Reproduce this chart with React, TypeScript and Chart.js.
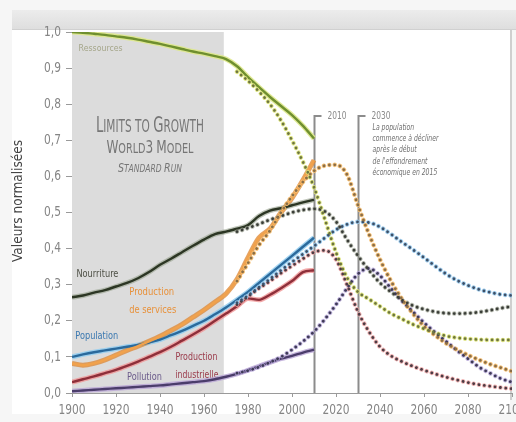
import { useEffect, useRef } from "react";
import { Chart, registerables } from "chart.js";
Chart.register(...registerables);

const FONT = '"DejaVu Sans", "Liberation Sans", sans-serif';

// Historical data years (solid lines)
const histYears = [1900, 1905, 1910, 1915, 1920, 1925, 1930, 1935, 1940, 1945, 1950, 1955, 1960, 1965, 1970, 1975, 1980, 1985, 1990, 1995, 2000, 2005, 2010];
// Model projection years (dotted lines)
const projYears = [1975, 1980, 1985, 1990, 1995, 2000, 2005, 2010, 2015, 2020, 2025, 2030, 2035, 2040, 2045, 2050, 2055, 2060, 2065, 2070, 2075, 2080, 2085, 2090, 2095, 2100];

const resourcesHist = [1.0, 0.998, 0.995, 0.992, 0.988, 0.984, 0.979, 0.973, 0.967, 0.96, 0.953, 0.946, 0.94, 0.933, 0.925, 0.905, 0.875, 0.847, 0.82, 0.795, 0.77, 0.74, 0.705];
const foodHist = [0.265, 0.27, 0.278, 0.285, 0.295, 0.305, 0.318, 0.335, 0.355, 0.372, 0.39, 0.408, 0.425, 0.44, 0.447, 0.455, 0.465, 0.49, 0.505, 0.512, 0.52, 0.528, 0.535];
const servicesHist = [0.082, 0.077, 0.082, 0.092, 0.105, 0.118, 0.13, 0.143, 0.157, 0.173, 0.19, 0.21, 0.23, 0.252, 0.275, 0.315, 0.375, 0.43, 0.455, 0.5, 0.54, 0.59, 0.645];
const populationHist = [0.1, 0.107, 0.113, 0.118, 0.123, 0.128, 0.133, 0.14, 0.148, 0.16, 0.172, 0.186, 0.2, 0.218, 0.237, 0.258, 0.28, 0.305, 0.33, 0.355, 0.38, 0.405, 0.43];
const industryHist = [0.03, 0.038, 0.046, 0.055, 0.064, 0.075, 0.087, 0.1, 0.113, 0.128, 0.145, 0.162, 0.18, 0.2, 0.22, 0.24, 0.262, 0.258, 0.272, 0.29, 0.31, 0.335, 0.34];
const pollutionHist = [0.005, 0.007, 0.009, 0.011, 0.013, 0.015, 0.017, 0.019, 0.021, 0.024, 0.027, 0.03, 0.033, 0.038, 0.045, 0.053, 0.063, 0.074, 0.085, 0.095, 0.103, 0.112, 0.12];

const resourcesProj = [0.89, 0.865, 0.835, 0.8, 0.755, 0.7, 0.64, 0.57, 0.48, 0.39, 0.32, 0.28, 0.26, 0.24, 0.22, 0.205, 0.19, 0.178, 0.167, 0.158, 0.153, 0.15, 0.148, 0.147, 0.147, 0.147];
const servicesProj = [0.31, 0.36, 0.41, 0.45, 0.5, 0.545, 0.585, 0.615, 0.63, 0.632, 0.605, 0.52, 0.44, 0.37, 0.31, 0.26, 0.22, 0.185, 0.16, 0.138, 0.12, 0.105, 0.092, 0.08, 0.07, 0.06];
const foodProj = [0.447, 0.457, 0.468, 0.48, 0.49, 0.5, 0.507, 0.51, 0.503, 0.475, 0.425, 0.38, 0.34, 0.305, 0.28, 0.258, 0.242, 0.232, 0.225, 0.221, 0.22, 0.221, 0.224, 0.229, 0.235, 0.24];
const populationProj = [0.25, 0.27, 0.293, 0.316, 0.34, 0.363, 0.385, 0.407, 0.43, 0.452, 0.467, 0.474, 0.472, 0.46, 0.44, 0.418, 0.397, 0.375, 0.352, 0.33, 0.312, 0.298, 0.287, 0.279, 0.273, 0.27];
const industryProj = [0.245, 0.267, 0.29, 0.31, 0.332, 0.352, 0.372, 0.39, 0.395, 0.37, 0.3, 0.225, 0.17, 0.128, 0.103, 0.087, 0.074, 0.063, 0.053, 0.044, 0.036, 0.029, 0.023, 0.019, 0.015, 0.012];
const pollutionProj = [0.055, 0.062, 0.072, 0.085, 0.1, 0.12, 0.143, 0.17, 0.205, 0.245, 0.29, 0.33, 0.345, 0.325, 0.29, 0.255, 0.225, 0.195, 0.168, 0.143, 0.118, 0.095, 0.072, 0.055, 0.04, 0.03];

const yTickValues = [0, 0.1, 0.2, 0.3, 0.4, 0.5, 0.6, 0.7, 0.8, 0.9, 1.0];
const xTickValues = [1900, 1920, 1940, 1960, 1980, 2000, 2020, 2040, 2060, 2080, 2100];

const shadedStart = 1900;
const shadedEnd = 1969;
const markerYears = [2010, 2030];
const markerLabels = ["2010", "2030"];
const noteLines = ["La population", "commence à décliner", "après le début", "de l'effondrement", "économique en 2015"];

type Lbl = { text: string[]; x: number; y: number; color: string; size: number; widths: number[] };
const seriesLabels: Lbl[] = [
  { text: ["Ressources"], x: 1903, y: 0.955, color: "#a5a68a", size: 9, widths: [44] },
  { text: ["Nourriture"], x: 1902, y: 0.33, color: "#4d4f45", size: 11, widths: [42] },
  { text: ["Production", "de services"], x: 1926, y: 0.28, color: "#e8913a", size: 11, widths: [45, 47] },
  { text: ["Population"], x: 1901.5, y: 0.158, color: "#3a78b0", size: 11, widths: [43] },
  { text: ["Production", "industrielle"], x: 1947, y: 0.1, color: "#9a3a4a", size: 11, widths: [42, 43] },
  { text: ["Pollution"], x: 1925, y: 0.043, color: "#6a5a8a", size: 11, widths: [35] },
];

function fitText(ctx: CanvasRenderingContext2D, text: string, x: number, y: number, size: number, targetW: number, color: string, align: CanvasTextAlign = "left", italic = false, fixedScale = 0) {
  ctx.save();
  ctx.font = `${italic ? "italic " : ""}${size}px ${FONT}`;
  const w = ctx.measureText(text).width;
  const sx = fixedScale || targetW / w;
  ctx.translate(x, y);
  ctx.scale(sx, 1);
  ctx.fillStyle = color;
  ctx.textAlign = align;
  ctx.textBaseline = "middle";
  ctx.fillText(text, 0, 0);
  ctx.restore();
}

function drawSmallCaps(ctx: CanvasRenderingContext2D, text: string, cx: number, baseline: number, B: number, targetW: number, italic: boolean, color: string) {
  const ratio = 0.8;
  const parts = Array.from(text).map((ch) => {
    const big = ch !== " " && ch === ch.toUpperCase();
    const sz = big ? B : B * ratio;
    const font = `${italic ? "italic " : ""}${sz}px ${FONT}`;
    ctx.font = font;
    const w = ctx.measureText(ch.toUpperCase()).width;
    return { ch: ch.toUpperCase(), font, w };
  });
  const total = parts.reduce((a, p) => a + p.w, 0);
  const sx = targetW / total;
  ctx.save();
  ctx.translate(cx - targetW / 2, baseline);
  ctx.scale(sx, 1);
  ctx.fillStyle = color;
  ctx.textBaseline = "alphabetic";
  ctx.textAlign = "left";
  let x = 0;
  for (const p of parts) {
    ctx.font = p.font;
    ctx.fillText(p.ch, x, 0);
    x += p.w;
  }
  ctx.restore();
}

const decorPlugin = {
  id: "decor",
  beforeDraw(chart: any) {
    const { ctx, width, height } = chart;
    ctx.save();
    ctx.fillStyle = "#f6f6f6";
    ctx.fillRect(0, 0, width, height);
    ctx.fillStyle = "#ffffff";
    ctx.fillRect(12, 30, 498, 384);
    const g = ctx.createLinearGradient(0, 10, 0, 29);
    g.addColorStop(0, "#ececec");
    g.addColorStop(1, "#dedede");
    ctx.fillStyle = g;
    ctx.fillRect(12, 10, width - 12, 19);
    ctx.strokeStyle = "#d0d0d0";
    ctx.lineWidth = 1;
    ctx.beginPath();
    ctx.moveTo(12, 29.5);
    ctx.lineTo(width, 29.5);
    ctx.stroke();
    ctx.strokeStyle = "#cfcfcf";
    ctx.lineWidth = 2;
    ctx.beginPath();
    ctx.moveTo(511, 30);
    ctx.lineTo(511, 400);
    ctx.stroke();
    ctx.restore();
  },
  beforeDatasetsDraw(chart: any) {
    const { ctx, chartArea, scales } = chart;
    const xs = scales.x;
    const ys = scales.y;
    ctx.save();
    // shaded historical region
    const x0 = xs.getPixelForValue(shadedStart);
    const x1 = xs.getPixelForValue(shadedEnd);
    ctx.fillStyle = "#dcdcdc";
    ctx.fillRect(x0, chartArea.top, x1 - x0, chartArea.bottom - chartArea.top);
    // title
    const cx = (x0 + x1) / 2 + 2;
    drawSmallCaps(ctx, "Limits to Growth", cx, ys.getPixelForValue(0.722), 21, 108, false, "#767676");
    drawSmallCaps(ctx, "World3 Model", cx, ys.getPixelForValue(0.665), 17, 87, false, "#767676");
    drawSmallCaps(ctx, "Standard Run", cx, ys.getPixelForValue(0.613), 13, 64, true, "#767676");
    // series labels
    for (const l of seriesLabels) {
      l.text.forEach((t, i) => {
        fitText(ctx, t, xs.getPixelForValue(l.x), ys.getPixelForValue(l.y) + i * 18, l.size, l.widths[i], l.color);
      });
    }
    // marker lines
    const topV = 0.767;
    markerYears.forEach((yr, i) => {
      const px = Math.round(xs.getPixelForValue(yr)) + 0.5;
      const py = ys.getPixelForValue(topV);
      ctx.strokeStyle = "#8c8c8c";
      ctx.lineWidth = 2;
      ctx.beginPath();
      ctx.moveTo(px + 7, py);
      ctx.lineTo(px, py);
      ctx.lineTo(px, chartArea.bottom);
      ctx.stroke();
      fitText(ctx, markerLabels[i], px + 13, py, 10, 19, "#8a8a8a");
      if (i === 1) {
        noteLines.forEach((t, j) => fitText(ctx, t, px + 14, py + 11.5 + j * 11.3, 8.5, 0, "#6e6e6e", "left", true, 0.72));
      }
    });
    // y axis title
    ctx.save();
    ctx.translate(18, 201);
    ctx.rotate(-Math.PI / 2);
    fitText(ctx, "Valeurs normalisées", 0, 0, 13.5, 122, "#444", "center");
    ctx.restore();
    ctx.restore();
  },
  afterDraw(chart: any) {
    const { ctx, chartArea, scales } = chart;
    const xs = scales.x;
    const ys = scales.y;
    ctx.save();
    for (const v of yTickValues) {
      const lbl = v.toFixed(1).replace(".", ",");
      fitText(ctx, lbl, 61, ys.getPixelForValue(v), 14, 0, "#858585", "right", false, 0.76);
    }
    for (const v of xTickValues) {
      fitText(ctx, String(v), xs.getPixelForValue(v), chartArea.bottom + 17, 14, 0, "#858585", "center", false, 0.76);
    }
    ctx.restore();
  },
};

function pts(xs: number[], ys: number[]) {
  return xs.map((x, i) => ({ x, y: ys[i] }));
}

export default function App() {
  const ref = useRef<HTMLCanvasElement>(null);
  useEffect(() => {
    const canvas = ref.current!;
    const solid = (data: number[], color: string, halo: string) => [
      { data: pts(histYears, data), borderColor: halo, borderWidth: 5, order: 20 },
      { data: pts(histYears, data), borderColor: color, borderWidth: 2.4, order: 15 },
    ];
    const dotted = (data: number[], core: string, halo: string) => [
      { data: pts(projYears, data), borderColor: halo, borderWidth: 4.6, borderDash: [0.01, 5.4], borderCapStyle: "round", order: 10 },
      { data: pts(projYears, data), borderColor: core, borderWidth: 2.8, borderDash: [0.01, 5.4], borderCapStyle: "round", order: 5 },
    ];
    const datasets: any[] = [
      ...solid(resourcesHist, "#6f8f2f", "rgba(222,232,140,0.9)"),
      ...solid(foodHist, "#2c3624", "rgba(150,160,140,0.6)"),
      ...solid(servicesHist, "#f1a24c", "rgba(222,140,60,0.8)"),
      ...solid(populationHist, "#2b6a9c", "rgba(150,205,238,0.9)"),
      ...solid(industryHist, "#8e2f3a", "rgba(240,150,150,0.8)"),
      ...solid(pollutionHist, "#4b3d6b", "rgba(185,165,214,0.8)"),
      ...dotted(resourcesProj, "#6d7540", "rgba(220,226,120,0.9)"),
      ...dotted(servicesProj, "#8a6e48", "rgba(246,190,110,0.9)"),
      ...dotted(foodProj, "#3a3d38", "rgba(150,155,140,0.7)"),
      ...dotted(populationProj, "#3d4f66", "rgba(150,200,235,0.9)"),
      ...dotted(industryProj, "#4c3c44", "rgba(235,160,160,0.8)"),
      ...dotted(pollutionProj, "#3e3a56", "rgba(180,165,215,0.8)"),
    ].map((d) => ({ ...d, pointRadius: 0, fill: false, cubicInterpolationMode: "monotone" }));

    const chart = new Chart(canvas, {
      type: "line",
      data: { datasets },
      plugins: [decorPlugin],
      options: {
        animation: false,
        responsive: false,
        layout: { padding: { left: 0, top: 32, right: 28, bottom: 0 } },
        plugins: { legend: { display: false }, tooltip: { enabled: false } },
        scales: {
          x: {
            type: "linear",
            min: 1900,
            max: 2100,
            afterFit: (s: any) => { s.height = 29; },
            afterBuildTicks: (s: any) => { s.ticks = xTickValues.map((v) => ({ value: v })); },
            ticks: { color: "rgba(0,0,0,0)", font: { family: FONT, size: 12 }, padding: 4, maxRotation: 0, callback: (v: any) => String(v) },
            grid: { drawOnChartArea: false, drawTicks: true, tickLength: 4, color: "#9a9a9a" },
            border: { display: true, color: "#9a9a9a", width: 1 },
          },
          y: {
            type: "linear",
            min: 0,
            max: 1,
            afterFit: (s: any) => { s.width = 72; },
            afterBuildTicks: (s: any) => { s.ticks = yTickValues.map((v) => ({ value: v })); },
            ticks: { color: "rgba(0,0,0,0)", font: { family: FONT, size: 12 }, padding: 4, callback: (v: any) => Number(v).toFixed(1).replace(".", ",") },
            grid: { drawOnChartArea: false, drawTicks: true, tickLength: 6, color: "#9a9a9a" },
            border: { display: true, color: "#9a9a9a", width: 1 },
          },
        },
      } as any,
    });
    return () => chart.destroy();
  }, []);
  return (
    <div style={{ position: "fixed", left: 0, top: 0, width: 516, height: 422, overflow: "hidden", background: "#fff" }}>
      <canvas ref={ref} width={540} height={422} style={{ display: "block", width: 540, height: 422 }} />
    </div>
  );
}
